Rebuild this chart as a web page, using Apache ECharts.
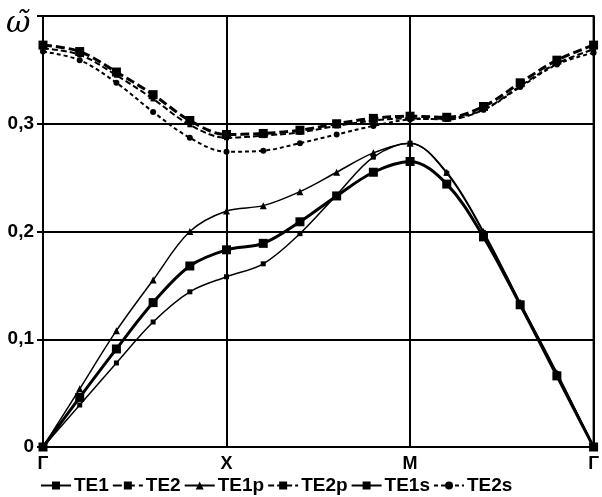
<!DOCTYPE html>
<html>
<head>
<meta charset="utf-8">
<script src="https://cdn.jsdelivr.net/npm/echarts@6/dist/echarts.min.js"></script>
<style>
  html, body { margin: 0; padding: 0; background: #fff; }
  #chart { width: 602px; height: 497px; }
</style>
</head>
<body>
<div id="chart"></div>
<script>
// Position along the Γ–X–M–Γ path (one unit per segment)
const kPath = [0, 0.2, 0.4, 0.6, 0.8, 1, 1.2, 1.4, 1.6, 1.8, 2, 2.2, 2.4, 2.6, 2.8, 3];
const pathLabels = ['Γ', 'X', 'M', 'Γ'];
const yTicks = [0, 0.1, 0.2, 0.3, 0.4];
const bandNames = ['TE1', 'TE2', 'TE1p', 'TE2p', 'TE1s', 'TE2s'];

// Normalised frequencies for each band
const TE1  = [0, 0.046, 0.091, 0.134, 0.168, 0.183, 0.189, 0.209, 0.233, 0.255, 0.265, 0.244, 0.195, 0.132, 0.066, 0];
const TE2  = [0.373, 0.367, 0.348, 0.327, 0.303, 0.290, 0.291, 0.294, 0.300, 0.305, 0.307, 0.306, 0.316, 0.338, 0.359, 0.373];
const TE1p = [0, 0.054, 0.108, 0.155, 0.200, 0.219, 0.224, 0.237, 0.255, 0.273, 0.282, 0.255, 0.200, 0.134, 0.069, 0];
const TE2p = [0.370, 0.364, 0.345, 0.323, 0.299, 0.287, 0.289, 0.292, 0.298, 0.303, 0.305, 0.304, 0.313, 0.335, 0.356, 0.369];
const TE1s = [0, 0.039, 0.078, 0.116, 0.144, 0.158, 0.170, 0.198, 0.234, 0.269, 0.282, 0.254, 0.199, 0.133, 0.068, 0];
const TE2s = [0.367, 0.359, 0.338, 0.311, 0.287, 0.274, 0.275, 0.282, 0.290, 0.298, 0.304, 0.305, 0.313, 0.334, 0.355, 0.366];

const pairs = vals => vals.map((v, i) => [kPath[i], v]);

function band(name, vals, width, dash, symbol, size) {
  return {
    name: name,
    type: 'line',
    data: pairs(vals),
    smooth: 0.35,
    symbol: symbol,
    symbolSize: size,
    showSymbol: true,
    color: '#000',
    itemStyle: { color: '#000', borderWidth: 0 },
    lineStyle: { color: '#000', width: width, type: dash },
    emphasis: { disabled: true },
    animation: false
  };
}

const font = '"Liberation Sans", Arial, sans-serif';
// the short names get a little extra room after them
const legendTail = { TE1: 12, TE2: 12 };

const chart = echarts.init(document.getElementById('chart'));
chart.setOption({
  backgroundColor: '#fff',
  animation: false,
  grid: {
    left: 43, right: 4, top: 16, bottom: 50,
    show: true, borderColor: '#000', borderWidth: 2, backgroundColor: 'transparent'
  },
  xAxis: {
    type: 'value', min: 0, max: 3, interval: 1,
    axisLine: { show: true, lineStyle: { color: '#000', width: 2 } },
    axisTick: { show: false },
    splitLine: { show: true, lineStyle: { color: '#000', width: 2 } },
    axisLabel: {
      color: '#000', fontFamily: font, fontWeight: 'bold', fontSize: 18, margin: 8,
      formatter: v => pathLabels[Math.round(v)] || ''
    }
  },
  yAxis: {
    type: 'value', min: yTicks[0], max: yTicks[yTicks.length - 1], interval: 0.1,
    axisLine: { show: true, lineStyle: { color: '#000', width: 2 } },
    axisTick: { show: true, length: 6, lineStyle: { color: '#000', width: 2 } },
    splitLine: { show: true, lineStyle: { color: '#000', width: 2 } },
    axisLabel: {
      color: '#000', fontFamily: font, fontWeight: 'bold', fontSize: 19, margin: 9,
      formatter: v => (v > 0.35 ? '' : (Math.round(v * 10) / 10).toString().replace('.', ','))
    }
  },
  legend: {
    left: 35, top: 471, itemWidth: 30, itemHeight: 10, itemGap: 3,
    textStyle: { color: '#000', fontFamily: font, fontWeight: 'bold', fontSize: 19 },
    data: bandNames.map(n => ({
      name: n,
      textStyle: { padding: [0, legendTail[n] || 0, 0, -2] }
    }))
  },
  graphic: [{
    type: 'text', left: 6, top: 9,
    style: { text: 'ω\u0303', font: 'italic 30px "DejaVu Serif", "Liberation Serif", serif', fill: '#000' }
  }],
  series: [
    band('TE1', TE1, 3, 'solid', 'rect', 9),
    band('TE2', TE2, 3, [9, 4], 'rect', 9),
    band('TE1p', TE1p, 1.5, 'solid', 'triangle', 7),
    band('TE2p', TE2p, 2, [6, 3], 'rect', 5),
    band('TE1s', TE1s, 1.5, 'solid', 'rect', 5),
    band('TE2s', TE2s, 2, [4, 3], 'circle', 6)
  ]
});
</script>
</body>
</html>
